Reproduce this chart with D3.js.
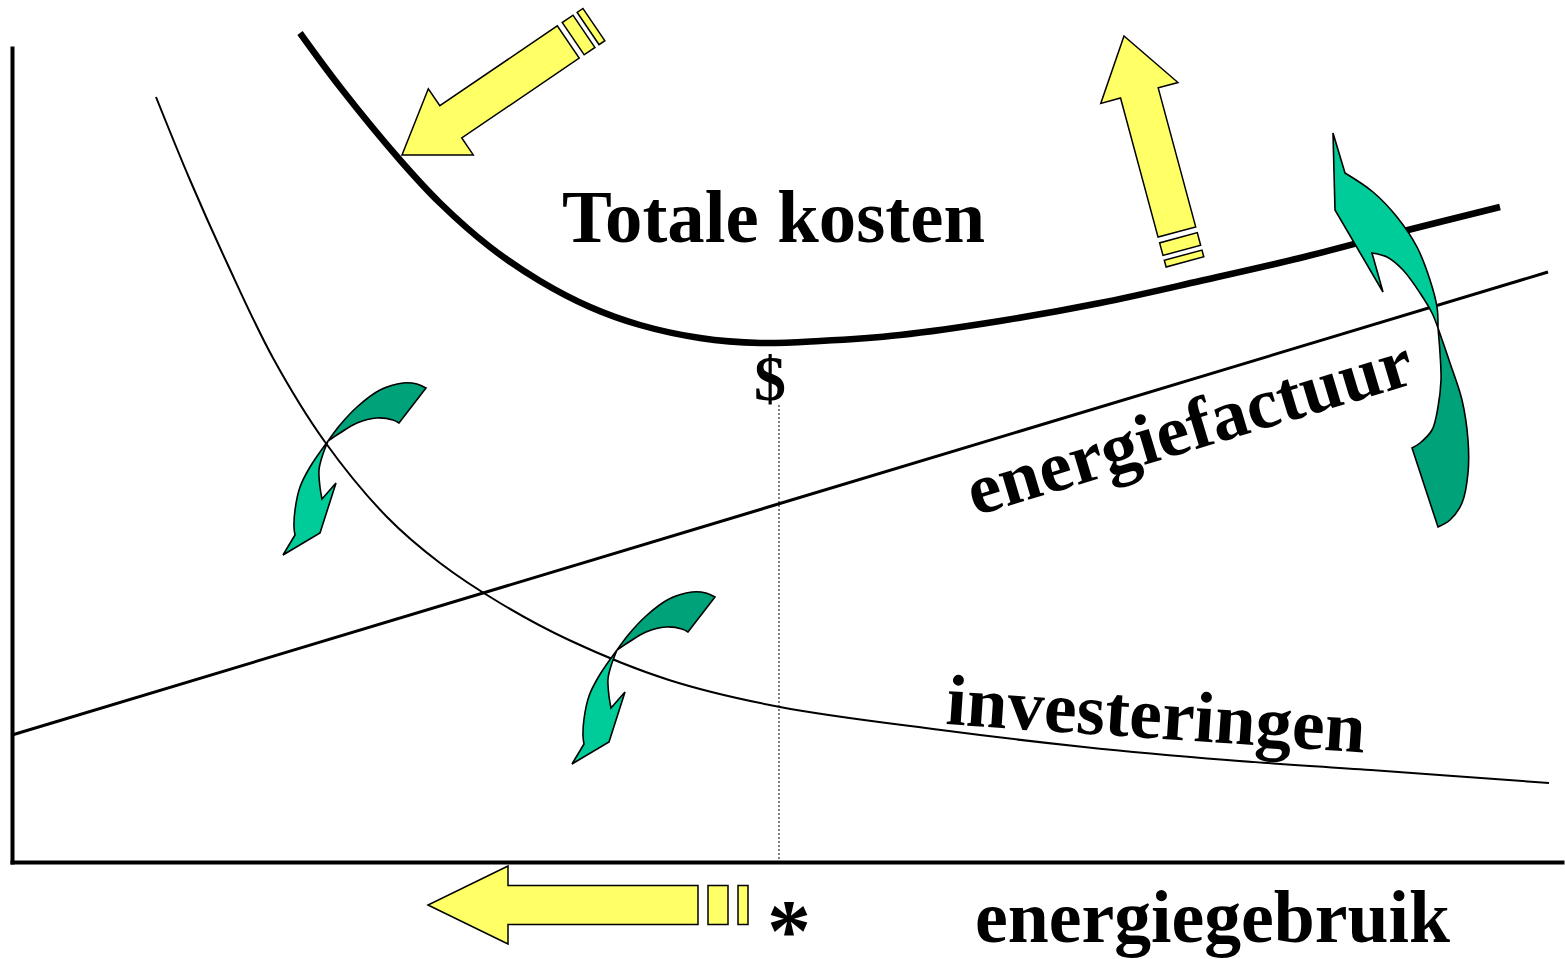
<!DOCTYPE html>
<html>
<head>
<meta charset="utf-8">
<script src="https://cdn.jsdelivr.net/npm/d3@7"></script>
<style>
  body { margin: 0; background: #fff; }
  svg { display: block; }
  text { font-family: "Liberation Serif", "Times New Roman", serif; font-weight: bold; fill: #000; }
</style>
</head>
<body>
<svg id="chart" width="1565" height="959"></svg>
<script>
// Curves (abstract units: energy use → right, cost → up)
const totaalX = [288, 328, 388, 428, 478, 528, 578, 628, 688, 748, 808, 888, 988, 1088, 1188, 1288, 1388, 1488];
const totaalY = [829, 775, 702, 659, 615, 581, 555, 537, 524, 519, 521, 527, 541, 559, 581, 604, 630, 655];
const investX = [144, 178, 215, 261, 313, 375, 428, 488, 557, 657, 768, 929, 1072, 1215, 1359, 1537];
const investY = [765, 682, 599, 504, 420, 345, 299, 259, 222, 182, 155, 132, 115, 102, 92, 79];
const factuurX = [0, 1536];
const factuurY = [127, 590];
const optimumX = 767;   // minimum of total cost
const optimumY = 457;   // top of the dotted guide (below the $)

// Labels
const labelTexts = ["kosten", "Totale kosten", "$", "energiefactuur", "investeringen", "energiegebruik", "*"];

// Set up SVG and scales
const svg = d3.select("#chart");
const x = d3.scaleLinear().domain([0, 1550]).range([12, 1562]);
const y = d3.scaleLinear().domain([0, 814]).range([862, 48]);

const zip = (xs, ys) => xs.map((v, i) => [v, ys[i]]);
const line = d3.line().x(d => x(d[0])).y(d => y(d[1])).curve(d3.curveCatmullRom.alpha(0.5));

// Axes (no ticks, just the two thick lines)
svg.append("g")
   .attr("transform", `translate(0,${y(0)})`)
   .call(d3.axisBottom(x).ticks(0).tickSizeOuter(0))
   .call(g => g.select(".domain").attr("stroke-width", 4).attr("stroke-linecap", "square"));
svg.append("g")
   .attr("transform", `translate(${x(0)},0)`)
   .call(d3.axisLeft(y).ticks(0).tickSizeOuter(0))
   .call(g => g.select(".domain").attr("stroke-width", 4).attr("stroke-linecap", "square"));

// Dotted guide at the optimum
svg.append("line")
   .attr("x1", x(optimumX)).attr("x2", x(optimumX))
   .attr("y1", y(optimumY)).attr("y2", y(0))
   .attr("stroke", "#000").attr("stroke-width", 1).attr("stroke-dasharray", "2,2");

// Curves
svg.append("path").datum(zip(factuurX, factuurY)).attr("d", line)
   .attr("fill", "none").attr("stroke", "#000").attr("stroke-width", 3);
svg.append("path").datum(zip(investX, investY)).attr("d", line)
   .attr("fill", "none").attr("stroke", "#000").attr("stroke-width", 2);
svg.append("path").datum(zip(totaalX, totaalY)).attr("d", line)
   .attr("fill", "none").attr("stroke", "#000").attr("stroke-width", 6.5);

// Labels (the top one is cut off by the frame, as in the original slide)
const labelPos = [
  {x: -96, y: 866, size: 74, len: null, rot: 0, anchor: "start"},
  {x: 550, y: 620, size: 74, len: 423, rot: 0, anchor: "start"},
  {x: 758, y: 462, size: 64, len: null, rot: 0, anchor: "middle"},
  {x: 963, y: 346, size: 72, len: 462, rot: -16.8, anchor: "start"},
  {x: 933, y: 138, size: 72, len: 420, rot: 3.9, anchor: "start"},
  {x: 963, y: -80, size: 74, len: 475, rot: 0, anchor: "start"},
  {x: 777, y: -98, size: 88, len: null, rot: 0, anchor: "middle"}
];
labelTexts.forEach((t, i) => {
  const p = labelPos[i];
  const el = svg.append("text")
    .attr("transform", `translate(${x(p.x)},${y(p.y)}) rotate(${p.rot})`)
    .attr("text-anchor", p.anchor)
    .style("font-size", p.size + "px")
    .text(t);
  if (p.len) el.attr("textLength", p.len).attr("lengthAdjust", "spacingAndGlyphs");
});

// Yellow block arrows: tip position (data units), direction, shape sizes in px
const yellowArrows = [
  {tx: 390, ty: 707, angle: 145.8, head: 59, headHalf: 40, shaftHalf: 19.5, len: 201, bars: [[6, 13], [5, 7]]},
  {tx: 1112, ty: 826, angle: -105.1, head: 59, headHalf: 40, shaftHalf: 19.5, len: 203, bars: [[6, 13], [5, 7]]},
  {tx: 416, ty: -43, angle: 180, head: 80, headHalf: 39, shaftHalf: 19.5, len: 270, bars: [[10, 20], [10, 10]]}
];
yellowArrows.forEach(a => {
  const g = svg.append("g")
    .attr("transform", `translate(${x(a.tx)},${y(a.ty)}) rotate(${a.angle})`);
  const pts = [[0, 0], [-a.head, -a.headHalf], [-a.head, -a.shaftHalf], [-a.len, -a.shaftHalf],
               [-a.len, a.shaftHalf], [-a.head, a.shaftHalf], [-a.head, a.headHalf]];
  g.append("path").attr("d", "M" + pts.join("L") + "Z")
    .attr("fill", "#FFFF66").attr("stroke", "#000").attr("stroke-width", 1.5);
  let pos = a.len;
  a.bars.forEach(([gap, w]) => {
    pos += gap;
    g.append("rect").attr("x", -(pos + w)).attr("y", -a.shaftHalf)
      .attr("width", w).attr("height", a.shaftHalf * 2)
      .attr("fill", "#FFFF66").attr("stroke", "#000").attr("stroke-width", 1.5);
    pos += w;
  });
});

// Green twisted arrows: outline edges as px offsets around the twist point
// each edge: {p: points, s: straight?}
const smallDark = [
  {p: [[0, 0], [12, -16], [29, -34], [52, -51], [75, -58], [89, -57], [98, -53]]},
  {p: [[98, -53], [71, -18]], s: true},
  {p: [[71, -18], [65, -21], [49, -23], [29, -18], [12, -8], [0, 0]]}
];
const smallLight = [
  {p: [[0, 0], [-18, 26], [-28, 46], [-33, 69], [-34, 86], [-33, 94]]},
  {p: [[-33, 94], [-45, 114], [-8, 92], [8, 42], [-6, 58]], s: true},
  {p: [[-6, 58], [-8, 46], [-9, 29], [-6, 16], [0, 0]]}
];
const bigDark = [
  {p: [[0, 0], [12, 35], [24, 72], [30, 112], [30, 145], [24, 175], [12, 192], [0, 199]]},
  {p: [[0, 199], [-26, 120]], s: true},
  {p: [[-26, 120], [-18, 115], [-6, 102], [0, 79], [3, 52], [2, 25], [0, 0]]}
];
const bigLight = [
  {p: [[-105, -195], [-93, -155]], s: true},
  {p: [[-93, -155], [-65, -136], [-41, -111], [-21, -81], [-8, -48], [-1, -21], [0, 0]]},
  {p: [[0, 0], [-6, -15], [-18, -35], [-35, -58], [-51, -71], [-66, -75]]},
  {p: [[-66, -75], [-55, -36], [-103, -118], [-105, -195]], s: true}
];
const greenArrows = [
  {ax: 316, ay: 421, dark: smallDark, light: smallLight},
  {ax: 605, ay: 212, dark: smallDark, light: smallLight},
  {ax: 1426, ay: 534, dark: bigDark, light: bigLight}
];

const curved = d3.line().curve(d3.curveCatmullRom.alpha(0.5));
const straight = d3.line();
function outline(edges) {
  let d = "";
  edges.forEach((e, i) => {
    const s = (e.s ? straight : curved)(e.p);
    d += i === 0 ? s : s.replace(/^M[^A-Z]*/, "");
  });
  return d + "Z";
}

greenArrows.forEach(a => {
  const g = svg.append("g").attr("transform", `translate(${x(a.ax)},${y(a.ay)})`);
  g.append("path").attr("d", outline(a.dark))
    .attr("fill", "#00A27A").attr("stroke", "#000").attr("stroke-width", 1.6);
  g.append("path").attr("d", outline(a.light))
    .attr("fill", "#00CC99").attr("stroke", "#000").attr("stroke-width", 1.6);
});
</script>
</body>
</html>
